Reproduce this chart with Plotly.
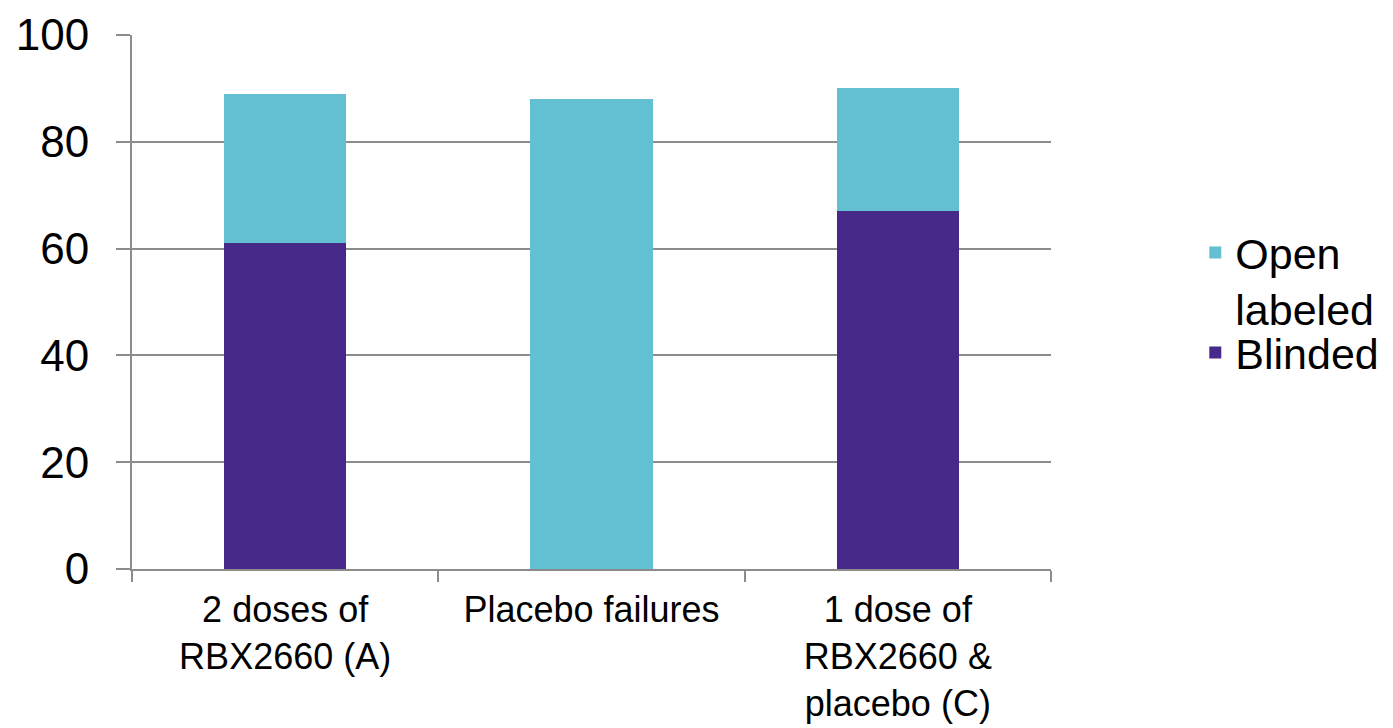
import plotly.graph_objects as go

categories = ["2 doses of<br>RBX2660 (A)", "Placebo failures", "1 dose of<br>RBX2660 &<br>placebo (C)"]
blinded = [61, 0, 67]
open_labeled = [28, 88, 23]
y_ticks = [0, 20, 40, 60, 80, 100]

CYAN = "#62C0D2"
PURPLE = "#47298A"
GRID = "#8C8C8C"
FONT = "Liberation Sans, Arial, sans-serif"

fig = go.Figure()
fig.add_trace(go.Bar(x=categories, y=blinded, name="Blinded", legend="legend2",
                     showlegend=True,
                     marker=dict(color=PURPLE, line=dict(width=0))))
fig.add_trace(go.Bar(x=categories, y=open_labeled, name="Open<br>labeled", legend="legend",
                     showlegend=True,
                     marker=dict(color=CYAN, line=dict(width=0))))

legend_font = dict(size=43, family=FONT, color="black")
fig.update_layout(
    width=1393, height=728,
    margin=dict(l=132, r=342, t=35, b=159, autoexpand=False),
    barmode="stack", bargap=0.6, showlegend=True,
    plot_bgcolor="white", paper_bgcolor="white",
    font=dict(family=FONT, color="black"),
    legend=dict(x=1.157, xanchor="left", y=0.657, yanchor="top", visible=True,
                valign="top", font=legend_font, bgcolor="rgba(0,0,0,0)"),
    legend2=dict(x=1.157, xanchor="left", y=0.470, yanchor="top", visible=True,
                 valign="top", font=legend_font, bgcolor="rgba(0,0,0,0)"),
)
fig.update_yaxes(range=[0, 100], tickvals=y_ticks, showgrid=True, gridcolor=GRID,
                 gridwidth=2, showline=True, linecolor=GRID, linewidth=2,
                 ticks="outside", ticklen=14, tickcolor=GRID, tickwidth=2,
                 tickfont=dict(size=44, family=FONT, color="black"),
                 ticklabelstandoff=18, zeroline=False)
fig.update_xaxes(showgrid=False, showline=True, linecolor=GRID, linewidth=2,
                 ticks="outside", tickson="boundaries", ticklen=11, tickcolor=GRID,
                 tickwidth=2, tickfont=dict(size=36, family=FONT, color="black"),
                 tickangle=0, ticklabelstandoff=8)

fig.write_html("out.html")
